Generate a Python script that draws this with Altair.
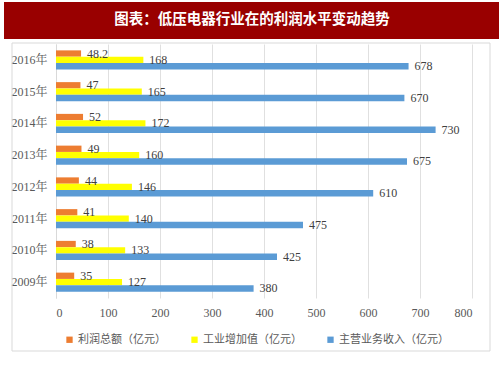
import altair as alt
import pandas as pd

years = ["2009年", "2010年", "2011年", "2012年", "2013年", "2014年", "2015年", "2016年"]
profit = [35, 38, 41, 44, 49, 52, 47, 48.2]
added_value = [127, 133, 140, 146, 160, 172, 165, 168]
revenue = [380, 425, 475, 610, 675, 730, 670, 678]
series = ["利润总额（亿元）", "工业增加值（亿元）", "主营业务收入（亿元）"]
colors = ["#ED7D31", "#FFFF00", "#5B9BD5"]
title_text = "图表：低压电器行业在的利润水平变动趋势"
x_ticks = [0, 100, 200, 300, 400, 500, 600, 700, 800]

rows = []
for i, y in enumerate(years):
    for s, vals in zip(series, [profit, added_value, revenue]):
        rows.append({"year": y, "series": s, "value": vals[i],
                     "label": (f"{vals[i]:g}")})
df = pd.DataFrame(rows)

SERIF = "Liberation Serif, Noto Serif CJK SC, Noto Sans CJK SC"
CJK = "Noto Sans CJK SC"

y_enc = alt.Y("year:N", sort=list(reversed(years)), title=None,
              scale=alt.Scale(paddingInner=0.4, paddingOuter=0.2),
              axis=alt.Axis(ticks=False, domain=True, domainColor="#d9d9d9",
                            labelFont=SERIF, labelFontSize=12, labelColor="#595959",
                            labelPadding=9, grid=False))
x_enc = alt.X("value:Q", title=None,
              scale=alt.Scale(domain=[0, 800], nice=False),
              axis=alt.Axis(values=x_ticks, ticks=False, domain=False, grid=True,
                            gridColor="#e0e0e0", labelFont=SERIF, labelFontSize=12,
                            labelColor="#595959", labelPadding=9))
yoff = alt.YOffset("series:N", sort=series, scale=alt.Scale(paddingInner=0, paddingOuter=0))

bars = alt.Chart(df).mark_bar(size=6.3).encode(
    y=y_enc, x=x_enc, yOffset=yoff,
    color=alt.Color("series:N", sort=series,
                    scale=alt.Scale(domain=series, range=colors),
                    legend=alt.Legend(title=None, orient="none", direction="horizontal",
                                      legendX=8, legendY=290, symbolType="square",
                                      symbolSize=40, symbolStrokeWidth=0,
                                      labelFont=CJK, labelFontSize=11, labelColor="#595959",
                                      columnPadding=23, labelLimit=300, labelOffset=3))
)

labels = alt.Chart(df).mark_text(align="left", baseline="middle", dx=6,
                                 font=SERIF, fontSize=12, color="#404040").encode(
    y=alt.Y("year:N", sort=list(reversed(years))), x="value:Q", yOffset=yoff,
    text="label:N"
)

one = pd.DataFrame({"t": [title_text]})
frame = alt.Chart(one).mark_rect(fill=None, stroke="#d9d9d9", strokeWidth=1).encode(
    x=alt.value(-44), x2=alt.value(434), y=alt.value(-1), y2=alt.value(307))
bar_bg = alt.Chart(one).mark_rect(color="#990000").encode(
    x=alt.value(-52), x2=alt.value(443), y=alt.value(-42), y2=alt.value(-5))
title = alt.Chart(one).mark_text(color="white", font=CJK, fontSize=14.5,
                                 fontWeight="bold", baseline="middle", align="center").encode(
    x=alt.value(196), y=alt.value(-24), text="t:N")

chart = alt.layer(frame, bars, labels, bar_bg, title).properties(
    width=416, height=254,
    autosize=alt.AutoSizeParams(type="none"),
    padding={"left": 56, "top": 44, "right": 31, "bottom": 80},
    background="white",
).configure_view(stroke=None)

chart.save("out.html", embed_options={"renderer": "svg", "actions": False})
